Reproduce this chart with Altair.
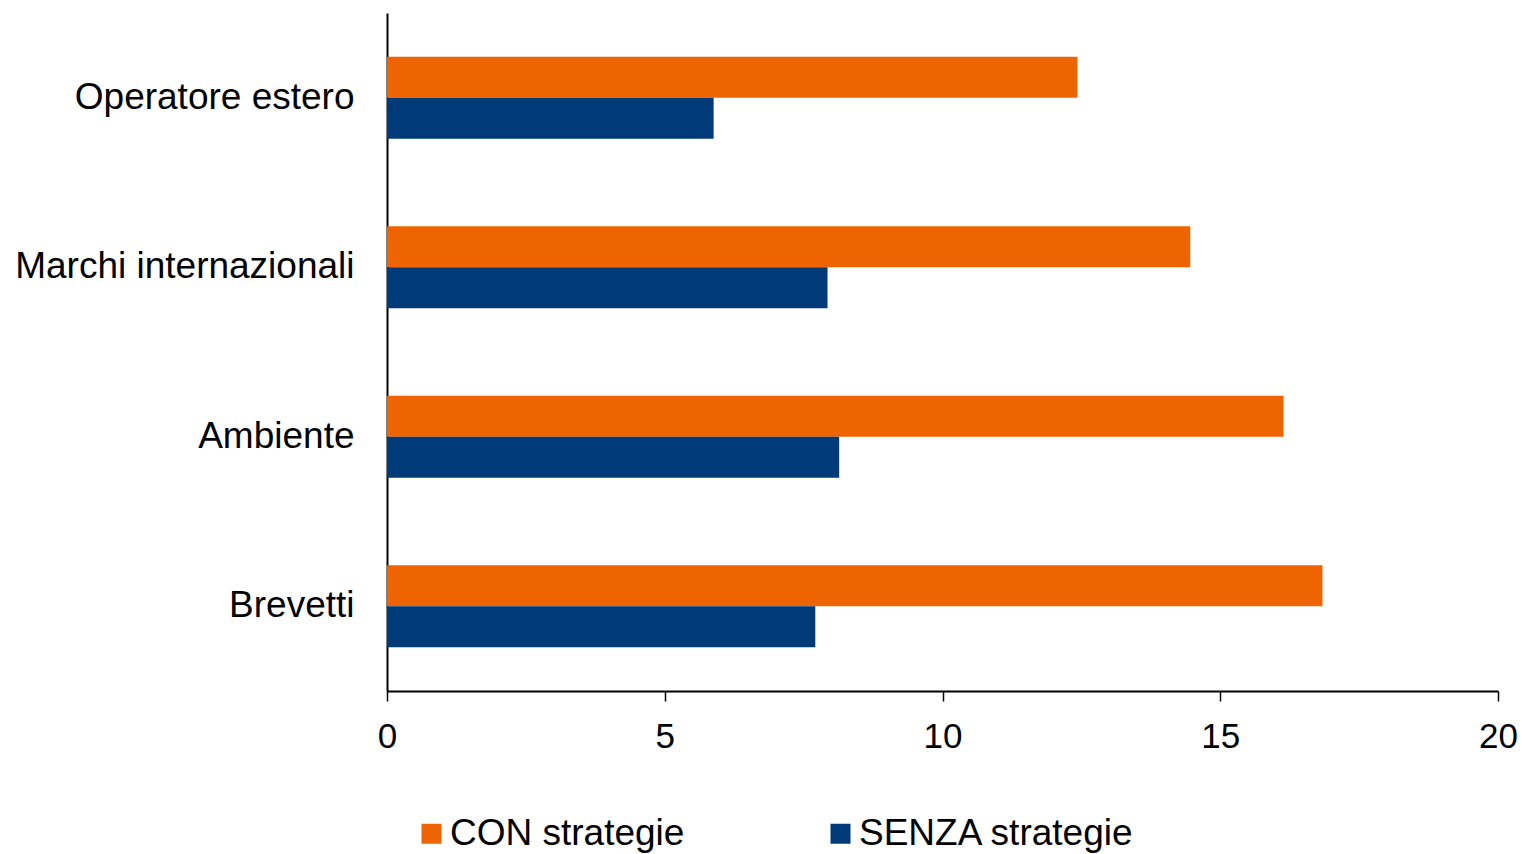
import altair as alt
import pandas as pd

categories = ["Operatore estero", "Marchi internazionali", "Ambiente", "Brevetti"]
series = ["CON strategie", "SENZA strategie"]
con_values = [12.43, 14.46, 16.14, 16.84]
senza_values = [5.88, 7.93, 8.14, 7.71]
colors = ["#EE6400", "#003A78"]
x_ticks = [0, 5, 10, 15, 20]

rows = []
for cat, c, s in zip(categories, con_values, senza_values):
    rows.append({"categoria": cat, "gruppo": series[0], "valore": c})
    rows.append({"categoria": cat, "gruppo": series[1], "valore": s})
df = pd.DataFrame(rows)

FONT = "Liberation Sans"

chart = (
    alt.Chart(df)
    .mark_bar()
    .encode(
        y=alt.Y(
            "categoria:N",
            sort=categories,
            title=None,
            scale=alt.Scale(paddingInner=0.515, paddingOuter=0.2575),
            axis=alt.Axis(
                ticks=False,
                tickSize=0,
                labelPadding=33,
                labelFontSize=37,
                labelFont=FONT,
                labelColor="#000000",
                labelLimit=0,
                domainColor="#000000",
                domainWidth=2,
                grid=False,
            ),
        ),
        yOffset=alt.YOffset("gruppo:N", sort=series),
        x=alt.X(
            "valore:Q",
            title=None,
            scale=alt.Scale(domain=[0, 20], nice=False),
            axis=alt.Axis(
                values=x_ticks,
                format="d",
                tickSize=10,
                tickWidth=1.5,
                tickColor="#000000",
                domainColor="#000000",
                domainWidth=2,
                labelPadding=18,
                labelFontSize=35,
                labelFont=FONT,
                labelColor="#000000",
                labelFlush=False,
                grid=False,
            ),
        ),
        color=alt.Color(
            "gruppo:N",
            sort=series,
            scale=alt.Scale(domain=series, range=colors),
            legend=alt.Legend(
                title=None,
                orient="none",
                direction="horizontal",
                legendX=26,
                legendY=802,
                symbolType="square",
                symbolSize=400,
                symbolStrokeWidth=0,
                labelFontSize=37,
                labelFont=FONT,
                labelColor="#000000",
                labelLimit=0,
                labelOffset=0,
                columnPadding=137,
            ),
        ),
    )
    .properties(
        width=1111,
        height=678,
        background="#FFFFFF",
        padding={"left": 387, "top": 13, "right": 24, "bottom": 163},
        autosize=alt.AutoSizeParams(type="none"),
    )
    .configure_view(strokeWidth=0)
)

chart.save("out.html", embed_options={"renderer": "svg", "actions": False})
